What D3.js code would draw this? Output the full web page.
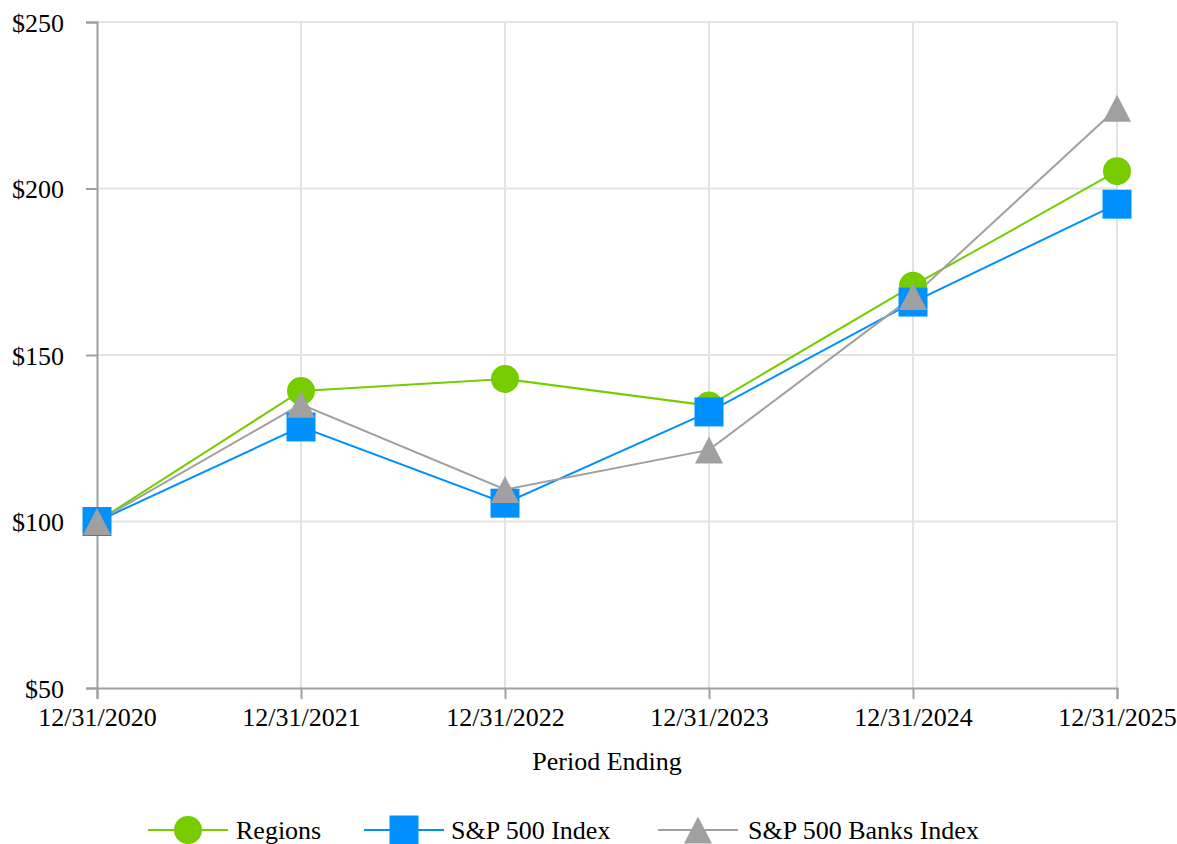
<!DOCTYPE html>
<html>
<head>
<meta charset="utf-8">
<script src="https://cdn.jsdelivr.net/npm/d3@7"></script>
<style>
  body { margin: 0; background: #fff; }
  svg text { font-family: "Liberation Serif", "Times New Roman", serif; fill: #000; }
</style>
</head>
<body>
<div id="chart"></div>
<script>
const periods = ["12/31/2020", "12/31/2021", "12/31/2022", "12/31/2023", "12/31/2024", "12/31/2025"];
const regions = [100, 139.2, 142.8, 134.8, 170.8, 205.2];
const sp500 = [100, 128.4, 105.5, 132.9, 165.9, 195.3];
const spBanks = [100, 135.2, 109.6, 121.5, 167.6, 224.1];
const yTicks = [50, 100, 150, 200, 250];

const triangle = {
  draw(context, size) {
    const w = 14, h = 13.5;
    context.moveTo(0, -h);
    context.lineTo(w, h);
    context.lineTo(-w, h);
    context.closePath();
  }
};

const series = [
  { name: "Regions", values: regions, color: "#77cc00", symbol: d3.symbolCircle, size: 615 },
  { name: "S&P 500 Index", values: sp500, color: "#0091ff", symbol: d3.symbolSquare, size: 841 },
  { name: "S&P 500 Banks Index", values: spBanks, color: "#a0a0a0", symbol: triangle, size: 1 }
];

const width = 1177, height = 844;
const margin = { left: 97, right: 60, top: 22, bottom: 156 };

const svg = d3.select("#chart").append("svg")
  .attr("width", width)
  .attr("height", height);

const x = d3.scalePoint()
  .domain(periods)
  .range([margin.left, width - margin.right]);

const y = d3.scaleLinear()
  .domain([50, 250])
  .range([height - margin.bottom, margin.top]);

// grid
const grid = svg.append("g").attr("stroke", "#e3e3e3").attr("stroke-width", 2);
grid.selectAll("line.h")
  .data(yTicks.slice(1))
  .join("line")
  .attr("x1", margin.left).attr("x2", width - margin.right)
  .attr("y1", d => y(d)).attr("y2", d => y(d));
grid.selectAll("line.v")
  .data(periods.slice(1))
  .join("line")
  .attr("x1", d => x(d)).attr("x2", d => x(d))
  .attr("y1", margin.top).attr("y2", height - margin.bottom);

// axes
const yAxis = svg.append("g")
  .attr("transform", `translate(${margin.left},0)`)
  .call(d3.axisLeft(y).tickValues(yTicks).tickSize(11).tickPadding(22).tickFormat(d => "$" + d));
const xAxis = svg.append("g")
  .attr("transform", `translate(0,${height - margin.bottom})`)
  .call(d3.axisBottom(x).tickSize(11).tickPadding(9));

[yAxis, xAxis].forEach(a => {
  a.select(".domain").attr("stroke", "#a0a0a0").attr("stroke-width", 2);
  a.selectAll(".tick line").attr("stroke", "#a0a0a0").attr("stroke-width", 2);
  a.selectAll("text")
    .style("font-family", "'Liberation Serif', serif")
    .style("font-size", "26px")
    .attr("fill", "#000");
});
yAxis.selectAll("text").attr("dy", "0.35em");

svg.append("text")
  .attr("x", (margin.left + width - margin.right) / 2)
  .attr("y", 770)
  .attr("text-anchor", "middle")
  .style("font-size", "26px")
  .text("Period Ending");

// lines
const line = d3.line()
  .x((d, i) => x(periods[i]))
  .y(d => y(d));

svg.append("g").selectAll("path")
  .data(series)
  .join("path")
  .attr("fill", "none")
  .attr("stroke", d => d.color)
  .attr("stroke-width", 2)
  .attr("d", d => line(d.values));

// markers
const markerPath = s => d3.symbol().type(s.symbol).size(s.size)();

series.forEach(s => {
  svg.append("g").selectAll("path")
    .data(s.values)
    .join("path")
    .attr("d", markerPath(s))
    .attr("fill", s.color)
    .attr("transform", (d, i) => `translate(${x(periods[i])},${y(d)})`);
});

// legend
const legendItems = [
  { cx: 188, textX: 236 },
  { cx: 404, textX: 451 },
  { cx: 698, textX: 748 }
];
const legend = svg.append("g");
series.forEach((s, i) => {
  const it = legendItems[i];
  const g = legend.append("g");
  g.append("line")
    .attr("x1", it.cx - 40).attr("x2", it.cx + 40)
    .attr("y1", 830).attr("y2", 830)
    .attr("stroke", s.color).attr("stroke-width", 2);
  g.append("path")
    .attr("d", markerPath(s))
    .attr("fill", s.color)
    .attr("transform", `translate(${it.cx},830)`);
  g.append("text")
    .attr("x", it.textX)
    .attr("y", 830)
    .attr("dy", "0.35em")
    .style("font-size", "26px")
    .text(s.name);
});
</script>
</body>
</html>
